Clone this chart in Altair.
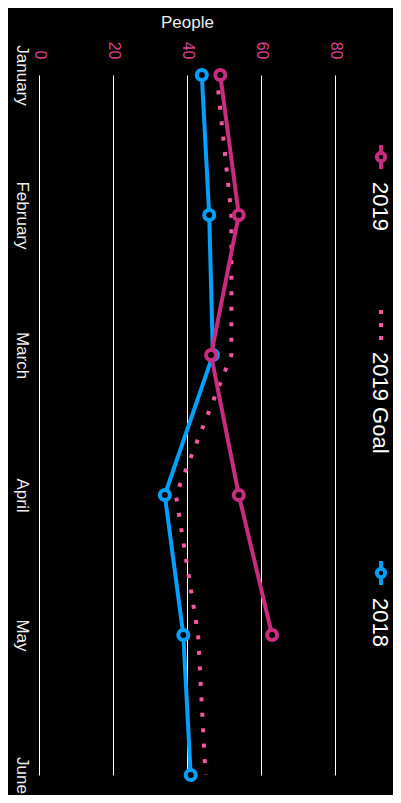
import altair as alt
import pandas as pd

months = ["January", "February", "March", "April", "May", "June"]
s2019 = [49, 54, 46.5, 54, 63]
goal2019 = [48, 52, 52, 37, 43, 45]
s2018 = [44, 46, 47, 34, 39, 41]
people_ticks = [0, 20, 40, 60, 80]
legend_labels = ["2019", "2019 Goal", "2018"]

PINK = "#c92b7f"
GOAL = "#f0589f"
BLUE = "#00a0ff"
LABEL_PINK = "#d9448c"
FONT = "Liberation Sans"

rows = []
for m, v in zip(months, s2019):
    rows.append({"month": m, "value": v, "series": "2019"})
for m, v in zip(months, goal2019):
    rows.append({"month": m, "value": v, "series": "2019 Goal"})
for m, v in zip(months, s2018):
    rows.append({"month": m, "value": v, "series": "2018"})
df = pd.DataFrame(rows)

X = alt.X("value:Q", scale=alt.Scale(domain=[0, 80]),
          axis=alt.Axis(orient="top", values=people_ticks, labelAngle=90,
                        title="People", titleColor="#eeeeee", titleFontSize=17,
                        titleFont=FONT, titleFontWeight="normal",
                        titleY=-48, titleBaseline="alphabetic",
                        labelColor=LABEL_PINK, labelFontSize=16, labelFont=FONT,
                        labelPadding=16, ticks=False, domain=False,
                        grid=True, gridColor="#ffffff", gridWidth=1))
Y = alt.Y("month:O", scale=alt.Scale(domain=months, type="point", padding=0),
          axis=alt.Axis(title=None, labelAngle=90, labelAlign="center",
                        labelColor="#eeeeee",
                        labelFontSize=17, labelFont=FONT, labelPadding=10,
                        ticks=False, domain=False, grid=False))

base = alt.Chart(df)

def series(name):
    return base.transform_filter(alt.datum.series == name)

l2018 = series("2018").mark_line(color=BLUE, strokeWidth=4).encode(x=X, y=Y)
p2018 = series("2018").mark_point(shape="circle", fill="black", stroke=BLUE,
                                  strokeWidth=4, size=100, opacity=1, fillOpacity=1).encode(x=X, y=Y)
lgoal = series("2019 Goal").mark_line(color=GOAL, strokeWidth=4,
                                      strokeDash=[4, 11.5]).encode(x=X, y=Y)
l2019 = series("2019").mark_line(color=PINK, strokeWidth=4).encode(x=X, y=Y)
p2019 = series("2019").mark_point(shape="circle", fill="black", stroke=PINK,
                                  strokeWidth=4, size=100, opacity=1, fillOpacity=1).encode(x=X, y=Y)

# manual rotated legend (layout positions in pixels, relative to plot area)
LX = 342
TX = 334
leg_layers = []
leg_spec = [
    ("2019", PINK, "circle", 70, 94, 82, 107),
    ("2019 Goal", GOAL, "dash", 235, 266, None, 277),
    ("2018", BLUE, "circle", 486, 510, 498, 523),
]
for lab, col, kind, r0, r1, cy, ty in leg_spec:
    d = alt.Chart(pd.DataFrame({"label": [lab]}))
    if kind == "circle":
        leg_layers.append(d.mark_rule(color=col, strokeWidth=4).encode(
            x=alt.value(LX), y=alt.value(r0), y2=alt.value(r1)))
        leg_layers.append(d.mark_point(shape="circle", fill="black", stroke=col,
                                       strokeWidth=4, size=70, opacity=1, fillOpacity=1).encode(
            x=alt.value(LX), y=alt.value(cy)))
    else:
        leg_layers.append(d.mark_rule(color=col, strokeWidth=4, strokeDash=[4, 9]).encode(
            x=alt.value(LX), y=alt.value(r0), y2=alt.value(r1)))
    leg_layers.append(d.mark_text(angle=90, align="left", baseline="alphabetic", fontSize=22,
                                  font=FONT, color="#ffffff").encode(
        x=alt.value(TX), y=alt.value(ty), text="label:N"))

chart = alt.layer(l2018, p2018, lgoal, l2019, p2019, *leg_layers).properties(
    width=296, height=700,
    autosize=alt.AutoSizeParams(type="none"),
    padding={"left": 31, "top": 67, "right": 58, "bottom": 20},
    background="#000000",
).configure_view(stroke=None)

chart.save("out.html", embed_options={"renderer": "svg", "actions": False})
